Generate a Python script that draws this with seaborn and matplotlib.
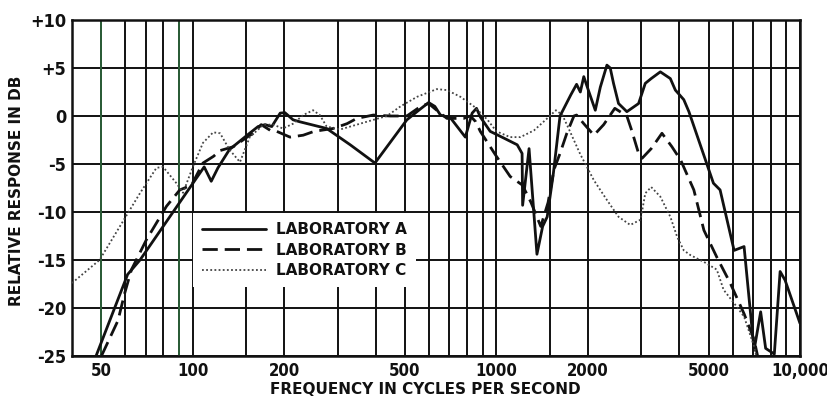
import matplotlib
matplotlib.use("Agg")
import matplotlib.pyplot as plt
import seaborn as sns
import pandas as pd
from matplotlib.ticker import FixedLocator, NullFormatter

# ---------------- data ----------------
freq_a = [48, 61, 67, 109, 115, 121, 132, 151, 164, 173, 182, 194, 201, 214, 225,
          276, 330, 398, 507, 555, 598, 627, 654, 706, 790, 832, 860, 885, 954,
          1058, 1171, 1215, 1220, 1281, 1360, 1420, 1470, 1540, 1620, 1758, 1837,
          1890, 1940, 1993, 2117, 2199, 2312, 2371, 2431, 2525, 2690, 2940, 3093,
          3235, 3467, 3740, 3885, 4142, 4306, 5186, 5455, 6066, 6543, 7060, 7420,
          7706, 8230, 8600, 8930, 10000]
db_a = [-25, -16.5, -15.0, -5.3, -6.8, -5.4, -3.5, -2.0, -1.1, -0.9, -1.1, 0.3, 0.35,
        -0.4, -0.6, -1.3, -3.0, -4.9, -0.4, 0.6, 1.4, 1.0, 0.1, -0.2, -2.2, 0.3, 0.8,
        -0.1, -1.6, -2.3, -3.0, -3.9, -9.3, -3.4, -14.4, -11.5, -10.5, -6.0, 0.0, 2.2,
        3.3, 2.5, 4.1, 3.0, 0.6, 3.0, 5.3, 5.0, 3.4, 1.3, 0.45, 1.3, 3.4, 3.9, 4.6,
        3.9, 2.7, 1.7, 0.45, -7.0, -7.7, -14.0, -13.6, -24.4, -20.4, -24.2, -24.8,
        -16.2, -17.1, -21.6]

freq_b = [50, 56.7, 59.6, 62.8, 70.3, 81.9, 90.6, 99, 108, 117, 123, 136, 151, 158,
          168, 180, 189, 209, 231, 251, 290, 322, 347, 393, 447, 507, 563, 598, 636,
          687, 780, 821, 855, 885, 954, 1000, 1110, 1218, 1300, 1400, 1480, 1547,
          1620, 1706, 1800, 1837, 1940, 2095, 2256, 2455, 2690, 2790, 2940, 3020,
          3235, 3510, 3785, 4046, 4470, 4825, 5320, 5890, 6543, 7060, 7250]
db_b = [-25, -21.3, -18.5, -16.0, -12.9, -9.4, -7.7, -7.2, -4.9, -4.2, -3.6, -3.2,
        -2.2, -1.8, -0.9, -1.5, -1.6, -2.2, -2.0, -1.6, -1.3, -0.8, -0.25, 0.1, 0.0,
        0.0, 1.0, 1.3, 0.6, -0.25, -0.25, 0.0, -0.6, -1.6, -3.2, -4.2, -6.3, -7.2,
        -9.0, -11.5, -9.0, -5.6, -3.9, -1.8, 0.0, 0.1, -0.8, -2.0, -0.9, 0.8, 0.0,
        -1.5, -3.9, -4.4, -3.4, -1.8, -3.2, -4.6, -7.7, -11.9, -14.7, -17.4, -20.6,
        -23.3, -25]

freq_c = [40, 49.3, 60.1, 66.8, 75.9, 79.8, 88.3, 92.9, 100, 108, 116.7, 123, 132,
          143, 154, 171, 184, 198, 214, 231, 249, 262, 276, 306, 347, 393, 436, 483,
          548, 636, 687, 761, 843, 935, 1000, 1110, 1200, 1330, 1470, 1570, 1650,
          1758, 1890, 2095, 2312, 2525, 2760, 2985, 3093, 3235, 3467, 3740, 3940,
          4142, 4360, 4825, 5320, 5600, 6066, 6543, 7060, 7200]
db_c = [-17.4, -15.0, -10.5, -8.1, -5.4, -5.3, -7.0, -8.0, -5.3, -2.8, -1.7, -1.8,
        -3.5, -4.8, -2.2, -0.9, -0.9, -1.3, -0.8, 0.1, 0.6, 0.1, -1.1, -1.4, -0.9,
        -0.4, 0.0, 1.0, 2.0, 2.8, 2.7, 2.0, 1.0, -0.4, -1.6, -2.2, -2.2, -1.5, -0.25,
        0.6, 0.1, -1.8, -4.0, -6.7, -8.75, -10.5, -11.35, -10.8, -8.05, -7.4, -8.4,
        -10.5, -12.6, -14.0, -14.5, -15.2, -16.0, -18.1, -19.5, -20.9, -24.0, -25.2]

labels = ["LABORATORY A", "LABORATORY B", "LABORATORY C"]
x_major = [50, 100, 200, 500, 1000, 2000, 5000, 10000]
x_major_labels = ["50", "100", "200", "500", "1000", "2000", "5000", "10,000"]
x_minor = [60, 70, 80, 90, 150, 300, 400, 600, 700, 800, 900, 1500,
           3000, 4000, 6000, 7000, 8000, 9000]
y_ticks = [10, 5, 0, -5, -10, -15, -20, -25]
y_tick_labels = ["+10", "+5", "0", "-5", "-10", "-15", "-20", "-25"]

# ---------------- figure ----------------
sns.set_theme(style="white")
plt.rcParams["font.family"] = ["DejaVu Sans"]
plt.rcParams["font.weight"] = "bold"

ink = "#111111"
fig = plt.figure(figsize=(8.28, 4.01), dpi=100)
ax = fig.add_axes([72 / 828, 1 - 356 / 401, 728 / 828, 336 / 401])

ax.set_xscale("log")
ax.set_xlim(40, 10000)
ax.set_ylim(-25, 10)

# grid
ax.xaxis.set_major_locator(FixedLocator(x_major))
ax.xaxis.set_minor_locator(FixedLocator(x_minor))
ax.xaxis.set_minor_formatter(NullFormatter())
ax.set_xticklabels(x_major_labels)
ax.set_yticks(y_ticks)
ax.set_yticklabels(y_tick_labels)
ax.grid(True, which="both", axis="x", color=ink, lw=1.4, zorder=0)
ax.grid(True, which="major", axis="y", color=ink, lw=1.4, zorder=0)
for gx in (50, 90):
    ax.axvline(gx, color="#2c5e38", lw=1.4, zorder=1)
ax.tick_params(axis="both", which="both", length=0)
ax.tick_params(axis="y", pad=4, labelsize=13)
ax.tick_params(axis="x", pad=4, labelsize=12)
for lab in ax.get_xticklabels() + ax.get_yticklabels():
    lab.set_fontweight("bold")
    lab.set_fontstretch("condensed")
    lab.set_color(ink)
for sp in ax.spines.values():
    sp.set_color(ink)
    sp.set_linewidth(1.8)

# curves
df_a = pd.DataFrame({"f": freq_a, "db": db_a})
df_b = pd.DataFrame({"f": freq_b, "db": db_b})
df_c = pd.DataFrame({"f": freq_c, "db": db_c})

sns.lineplot(data=df_a, x="f", y="db", ax=ax, sort=False, estimator=None,
             color=ink, lw=2.0, label=labels[0], zorder=3)
sns.lineplot(data=df_b, x="f", y="db", ax=ax, sort=False, estimator=None,
             color=ink, lw=2.0, label=labels[1], zorder=3)
sns.lineplot(data=df_c, x="f", y="db", ax=ax, sort=False, estimator=None,
             color="#444444", lw=1.3, label=labels[2], zorder=3)
lines = ax.get_lines()
lines[-2].set_dashes([5.5, 2.5])
lines[-1].set_dashes([1.0, 1.3])

ax.set_xlabel("")
ax.set_ylabel("")
fig.text(17 / 828, 1 - 191 / 401, "RELATIVE RESPONSE IN DB", rotation=90,
         ha="center", va="center", fontsize=11, fontweight="bold", color=ink)
fig.text(425 / 828, 1 - 390 / 401, "FREQUENCY IN CYCLES PER SECOND",
         ha="center", va="center", fontsize=11, fontweight="bold", color=ink)

leg = ax.legend(loc="upper left", bbox_to_anchor=((193 - 72) / 728, (356 - 213) / 336),
                frameon=True, fancybox=False, framealpha=1, facecolor="white",
                edgecolor="none", fontsize=11, handlelength=4.2, handletextpad=0.6,
                labelspacing=0.35, borderpad=0.6, borderaxespad=0)
for t in leg.get_texts():
    t.set_fontweight("bold")
    t.set_color(ink)
leg.set_zorder(2)

fig.savefig("out.png", dpi=100, facecolor="white")
